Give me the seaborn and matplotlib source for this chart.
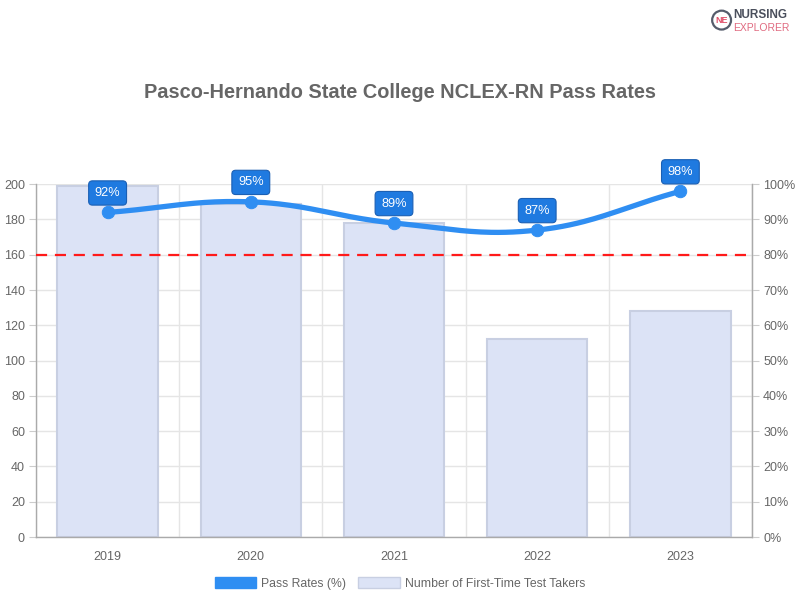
import numpy as np
import pandas as pd
import seaborn as sns
import matplotlib.pyplot as plt
from matplotlib.patches import Patch

years = ['2019', '2020', '2021', '2022', '2023']
takers = [199, 189, 178, 112, 128]
pass_rates = [92, 95, 89, 87, 98]
benchmark = 80

line_col = '#2f8ef2'
box_col = '#1f7ae0'
bar_col = '#dce3f6'
bar_edge = '#c8cfe2'
txt_col = '#666666'
grid_col = '#e5e5e5'

sns.set_style('white')
plt.rcParams['font.family'] = ['Liberation Sans', 'DejaVu Sans']

fig = plt.figure(figsize=(8, 6), dpi=100)
ax = fig.add_axes([0.045, 0.105, 0.895, 0.588])

df = pd.DataFrame({'year': years, 'takers': takers, 'rate': pass_rates})
sns.barplot(data=df, x='year', y='takers', ax=ax, color=bar_col, width=0.7,
            edgecolor=bar_edge, linewidth=1.5, saturation=1, zorder=2)
ax.set_xlim(-0.5, 4.5)
ax.set_ylim(0, 200)
ax.set_yticks(range(0, 201, 20))
ax.set_xticks(np.arange(-0.5, 5, 1), minor=True)
ax.grid(True, axis='y', color=grid_col, lw=1, zorder=0)
ax.grid(True, axis='x', which='minor', color=grid_col, lw=1, zorder=0)
ax.set_axisbelow(True)
ax.tick_params(axis='x', which='major', length=0, pad=10, labelsize=9, labelcolor=txt_col)
ax.tick_params(axis='x', which='minor', length=10, color=grid_col, width=1)
ax.tick_params(axis='y', length=5, color='#cccccc', pad=3, labelsize=9, labelcolor=txt_col, left=True)
ax.set_xlabel('')
ax.set_ylabel('')
for s in ['left', 'bottom', 'right']:
    ax.spines[s].set_color('#aaaaaa')
    ax.spines[s].set_linewidth(1)
ax.spines['top'].set_visible(False)

ax2 = ax.twinx()
ax2.set_ylim(0, 100)
ax2.set_yticks(range(0, 101, 10))
ax2.set_yticklabels([f'{v}%' for v in range(0, 101, 10)])
ax2.tick_params(axis='y', length=5, color='#cccccc', pad=3, labelsize=9, labelcolor=txt_col)
for s in ax2.spines.values():
    s.set_visible(False)
ax2.spines['right'].set_visible(True)
ax2.spines['right'].set_color('#aaaaaa')

ax2.axhline(benchmark, color='#ff1a1a', lw=1.6, ls=(0, (5, 3.5)), zorder=3)

# Chart.js style bezier smoothing (tension 0.4) computed in pixel units
xs = np.arange(len(years), dtype=float)
ys = np.array(pass_rates, dtype=float)
sx, sy = 143.2, 3.53
px, py = xs * sx, ys * sy
t = 0.4
cps = []
for i in range(len(px)):
    p0 = (px[max(i - 1, 0)], py[max(i - 1, 0)])
    p1 = (px[i], py[i])
    p2 = (px[min(i + 1, len(px) - 1)], py[min(i + 1, len(px) - 1)])
    d01 = np.hypot(p1[0] - p0[0], p1[1] - p0[1])
    d12 = np.hypot(p2[0] - p1[0], p2[1] - p1[1])
    s01 = d01 / (d01 + d12) if d01 + d12 else 0
    s12 = d12 / (d01 + d12) if d01 + d12 else 0
    fa, fb = t * s01, t * s12
    prev_cp = (p1[0] - fa * (p2[0] - p0[0]), p1[1] - fa * (p2[1] - p0[1]))
    next_cp = (p1[0] + fb * (p2[0] - p0[0]), p1[1] + fb * (p2[1] - p0[1]))
    cps.append((prev_cp, next_cp))
cx, cy = [], []
u = np.linspace(0, 1, 40)
for i in range(len(px) - 1):
    P0 = np.array([px[i], py[i]])
    P1 = np.array(cps[i][1])
    P2 = np.array(cps[i + 1][0])
    P3 = np.array([px[i + 1], py[i + 1]])
    seg = ((1 - u) ** 3)[:, None] * P0 + (3 * (1 - u) ** 2 * u)[:, None] * P1 \
        + (3 * (1 - u) * u ** 2)[:, None] * P2 + (u ** 3)[:, None] * P3
    cx.extend(seg[:, 0] / sx)
    cy.extend(seg[:, 1] / sy)
ax2.plot(cx, cy, color=line_col, lw=3.8, solid_capstyle='round', zorder=4)
sns.scatterplot(x=xs, y=ys, ax=ax2, color=line_col, s=80, edgecolor=line_col, zorder=5, legend=False)

for x, v in zip(xs, pass_rates):
    ax2.annotate(f'{v}%', (x, v), xytext=(0, 14), textcoords='offset points',
                 ha='center', va='center', fontsize=9.2, color='white', zorder=6,
                 bbox=dict(boxstyle='round,pad=0.48,rounding_size=0.3', fc=box_col, ec='#1a5fb4', lw=0.8))

fig.text(0.5, 0.845, 'Pasco-Hernando State College NCLEX-RN Pass Rates', ha='center', va='center',
         fontsize=14.4, fontweight='bold', color=txt_col)

handles = [Patch(facecolor=line_col, edgecolor=line_col),
           Patch(facecolor=bar_col, edgecolor=bar_edge, lw=1)]
fig.legend(handles, ['Pass Rates (%)', 'Number of First-Time Test Takers'], loc='center',
           bbox_to_anchor=(0.5, 0.028), ncol=2, frameon=False, fontsize=8.8, labelcolor=txt_col,
           handlelength=3.4, handleheight=1.1, handletextpad=0.4, columnspacing=1.0)

# logo
logo = fig.add_axes([0.888, 0.948, 0.028, 0.037])
logo.set_xlim(-1, 1)
logo.set_ylim(-1, 1)
logo.set_aspect('equal')
logo.axis('off')
logo.add_patch(plt.Circle((0, 0), 0.85, fill=False, ec='#555c6b', lw=1.6))
logo.text(0, 0, 'NE', ha='center', va='center', fontsize=6.5, fontweight='bold', color='#e0506a')
fig.text(0.917, 0.975, 'NURSING', fontsize=8.5, fontweight='bold', color='#4a4f5c', va='center')
fig.text(0.917, 0.953, 'EXPLORER', fontsize=7.5, color='#e06a80', va='center')

fig.savefig('out.png', dpi=100)
